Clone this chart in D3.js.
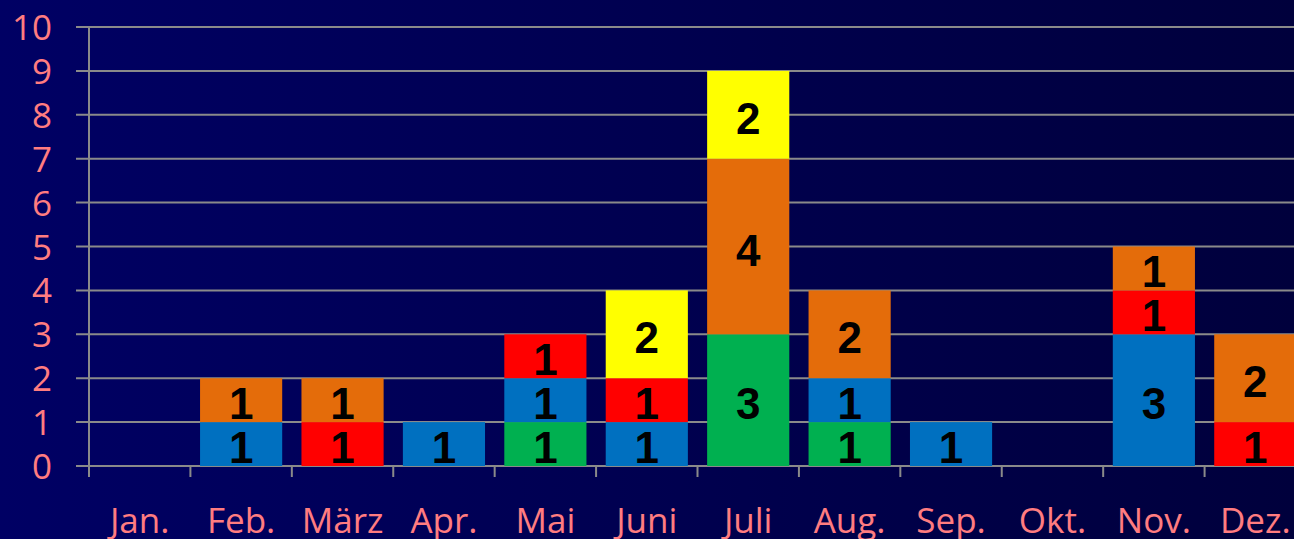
<!DOCTYPE html>
<head>
  <meta charset="utf-8" />
  <script src="https://d3js.org/d3.v7.min.js"></script>
  <style>
    body { margin: 0; overflow: hidden; background: #000050; }
  </style>
</head>
<body>
  <div id="chart"></div>
  <script>
    // donnees
    const months = ["Jan.", "Feb.", "März", "Apr.", "Mai", "Juni", "Juli", "Aug.", "Sep.", "Okt.", "Nov.", "Dez."];
    const seriesKeys = ["gruen", "blau", "rot", "orange", "gelb"];
    const gruen  = [0, 0, 0, 0, 1, 0, 3, 1, 0, 0, 0, 0];
    const blau   = [0, 1, 0, 1, 1, 1, 0, 1, 1, 0, 3, 0];
    const rot    = [0, 0, 1, 0, 1, 1, 0, 0, 0, 0, 1, 1];
    const orange = [0, 1, 1, 0, 0, 0, 4, 2, 0, 0, 1, 2];
    const gelb   = [0, 0, 0, 0, 0, 2, 2, 0, 0, 0, 0, 0];
    const yTicks = [0, 1, 2, 3, 4, 5, 6, 7, 8, 9, 10];

    const colors = { gruen: "#00b050", blau: "#0070c0", rot: "#ff0000", orange: "#e46c0a", gelb: "#ffff00" };

    const width = 1294, height = 539;
    const x0 = 89, x1 = 1306, yBottom = 466, yTop = 27;

    const table = months.map(function (m, i) {
      return { month: m, gruen: gruen[i], blau: blau[i], rot: rot[i], orange: orange[i], gelb: gelb[i] };
    });

    const svg = d3.select("#chart")
      .append("svg")
      .attr("width", width)
      .attr("height", height);

    // fond en degrade
    const grad = svg.append("defs").append("linearGradient")
      .attr("id", "bg").attr("x1", "0").attr("x2", "1").attr("y1", "0").attr("y2", "0");
    grad.append("stop").attr("offset", "0").attr("stop-color", "#000064");
    grad.append("stop").attr("offset", "1").attr("stop-color", "#00003c");
    svg.append("rect").attr("width", width).attr("height", height).attr("fill", "url(#bg)");

    // echelles
    const xCat = d3.scaleBand().domain(months).range([x0, x1]).padding(0);
    const xBar = d3.scaleBand().domain(months).range([x0, x1])
      .paddingInner(0.19).paddingOuter(0.095);
    const y = d3.scaleLinear().domain([0, 10]).range([yBottom, yTop]);

    // grille
    svg.append("g").selectAll("line")
      .data(yTicks)
      .join("line")
      .attr("x1", 76).attr("x2", width)
      .attr("y1", d => y(d)).attr("y2", d => y(d))
      .attr("stroke", "#8a8a8a").attr("stroke-width", 2);

    // axe y
    svg.append("line")
      .attr("x1", x0).attr("x2", x0).attr("y1", y(10)).attr("y2", y(0) + 11)
      .attr("stroke", "#8a8a8a").attr("stroke-width", 2);

    // ticks x
    svg.append("g").selectAll("line")
      .data(months)
      .join("line")
      .attr("x1", d => xCat(d)).attr("x2", d => xCat(d))
      .attr("y1", y(0)).attr("y2", y(0) + 11)
      .attr("stroke", "#8a8a8a").attr("stroke-width", 2);

    // barres empilees
    const stacked = d3.stack().keys(seriesKeys)(table);

    const layers = svg.append("g").selectAll("g")
      .data(stacked)
      .join("g")
      .attr("fill", d => colors[d.key]);

    layers.selectAll("rect")
      .data(d => d.filter(s => s[1] > s[0]))
      .join("rect")
      .attr("x", d => xBar(d.data.month))
      .attr("width", xBar.bandwidth())
      .attr("y", d => y(d[1]))
      .attr("height", d => y(d[0]) - y(d[1]));

    layers.selectAll("text")
      .data(d => d.filter(s => s[1] > s[0]))
      .join("text")
      .attr("x", d => xBar(d.data.month) + xBar.bandwidth() / 2)
      .attr("y", d => (y(d[0]) + y(d[1])) / 2 + 19)
      .attr("text-anchor", "middle")
      .attr("fill", "#000")
      .style("font-family", "'Liberation Sans', Arial, sans-serif")
      .style("font-weight", "bold")
      .style("font-size", "44px")
      .text(d => d[1] - d[0]);

    // etiquettes
    svg.append("g").selectAll("text")
      .data(yTicks)
      .join("text")
      .attr("x", 52)
      .attr("y", d => y(d) + 13)
      .attr("text-anchor", "end")
      .attr("fill", "#ff7c80")
      .style("font-family", "'Open Sans', sans-serif")
      .style("font-size", "35px")
      .text(d => d);

    svg.append("g").selectAll("text")
      .data(months)
      .join("text")
      .attr("x", d => xCat(d) + xCat.bandwidth() / 2)
      .attr("y", 533)
      .attr("text-anchor", "middle")
      .attr("fill", "#ff7c80")
      .style("font-family", "'Open Sans', sans-serif")
      .style("font-size", "35px")
      .text(d => d);
  </script>
</body>
